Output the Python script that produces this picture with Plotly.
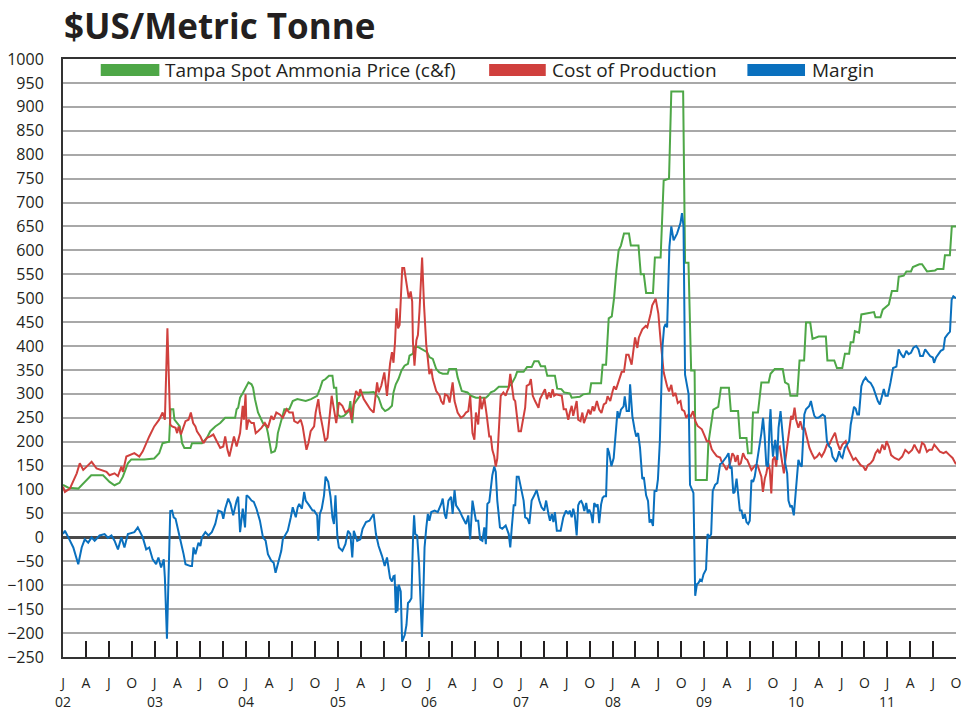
import plotly.graph_objects as go

# ---------------- data (x = months since Jan 2002) ----------------
quarter_labels = ["J", "A", "J", "O"]
year_labels = ["02", "03", "04", "05", "06", "07", "08", "09", "10", "11"]

price_month = [
    0.0, 0.7, 2.0, 2.9, 3.7, 5.25, 6.1, 6.75, 7.4, 7.85,
    8.5, 8.95, 10.65, 11.95, 12.6, 13.05, 13.9, 14.1, 14.45, 14.6,
    14.95, 15.3, 15.6, 15.9, 16.7, 16.9, 18.2, 18.85, 19.3, 19.95,
    20.6, 21.25, 22.55, 22.75, 22.95, 23.2, 23.6, 23.9, 24.3, 24.7,
    24.9, 25.15, 25.55, 26.2, 26.65, 26.85, 27.1, 27.3, 27.75, 27.95,
    28.15, 28.6, 29.0, 29.65, 30.1, 30.7, 31.8, 32.5, 32.9, 33.3,
    33.65, 34.0, 34.4, 34.85, 35.3, 35.5, 35.8, 36.0, 36.35, 36.8,
    37.0, 37.45, 37.65, 37.9, 38.1, 38.55, 39.2, 40.05, 40.7, 41.15,
    41.35, 41.8, 42.2, 42.65, 43.1, 43.3, 43.6, 43.95, 44.35, 44.75,
    45.2, 45.4, 45.85, 46.0, 46.5, 46.95, 47.35, 47.7, 48.0, 48.45,
    48.9, 49.3, 49.75, 50.4, 50.6, 51.5, 51.7, 52.0, 52.25, 53.0,
    53.45, 54.1, 55.4, 55.7, 56.05, 56.5, 56.9, 57.1, 58.4, 58.8,
    59.25, 59.5, 60.35, 60.8, 61.4, 61.75, 62.3, 62.6, 63.15, 63.45,
    64.45, 64.75, 65.3, 65.65, 66.4, 66.65, 67.7, 68.15, 69.0, 69.2,
    70.5, 70.7, 71.15, 71.5, 71.9, 72.2, 72.5, 72.8, 73.1, 73.5,
    74.15, 74.4, 75.4, 75.7, 76.1, 76.4, 77.3, 77.55, 78.3, 78.7,
    79.4, 79.7, 81.25, 81.5, 81.95, 82.3, 82.75, 82.9, 84.35, 84.55,
    85.2, 85.85, 86.2, 87.25, 87.5, 88.45, 88.7, 89.55, 89.75, 90.2,
    90.4, 91.05, 91.5, 92.45, 92.7, 93.25, 94.3, 94.6, 95.05, 95.3,
    96.2, 96.5, 97.1, 97.35, 97.9, 98.2, 99.0, 99.95, 100.15, 101.05,
    101.4, 102.1, 102.45, 103.0, 103.2, 103.55, 103.75, 104.3, 104.6, 106.25,
    106.45, 107.1, 107.4, 108.2, 108.6, 109.3, 109.5, 110.15, 110.5, 111.1,
    111.35, 112.2, 112.55, 112.85, 113.2, 114.25, 114.55, 115.35, 115.55, 116.2,
    116.45, 117.0]
price_value = [
    110, 104, 102, 116, 130, 130, 116, 109, 114, 127,
    155, 163, 163, 165, 176, 197, 200, 268, 268, 246,
    239, 232, 197, 187, 187, 197, 197, 208, 222, 232,
    239, 250, 250, 268, 271, 292, 303, 313, 324, 320,
    313, 289, 261, 239, 232, 218, 197, 177, 180, 190,
    218, 246, 268, 268, 285, 289, 285, 289, 292, 296,
    310, 327, 331, 338, 338, 313, 313, 257, 252, 254,
    257, 264, 285, 239, 278, 289, 303, 303, 304, 296,
    292, 271, 264, 268, 275, 303, 320, 331, 349, 359,
    363, 380, 384, 398, 398, 394, 391, 387, 377, 373,
    352, 345, 342, 342, 352, 352, 335, 317, 306, 303,
    296, 292, 292, 296, 303, 306, 313, 315, 315, 322,
    335, 346, 346, 356, 356, 368, 368, 358, 358, 338,
    338, 311, 310, 303, 301, 292, 294, 299, 301, 322,
    322, 361, 361, 458, 462, 500, 557, 600, 610, 635,
    635, 610, 610, 550, 550, 511, 511, 585, 585, 746,
    750, 932, 932, 574, 574, 349, 349, 120, 120, 196,
    267, 273, 313, 313, 264, 264, 208, 208, 176, 176,
    261, 261, 324, 324, 342, 352, 352, 324, 320, 296,
    296, 370, 370, 449, 449, 415, 420, 420, 370, 370,
    354, 354, 384, 384, 408, 408, 431, 428, 466, 471,
    460, 460, 476, 487, 515, 515, 545, 547, 556, 556,
    565, 571, 571, 565, 556, 558, 561, 561, 590, 590,
    650, 650]

cost_month = [
    0.0, 0.25, 0.9, 1.8, 2.2, 2.65, 3.1, 3.75, 4.4, 5.05,
    5.7, 6.1, 6.75, 7.2, 7.65, 7.85, 8.3, 9.35, 10.0, 10.45,
    10.9, 11.3, 11.95, 12.6, 13.05, 13.35, 13.68, 13.9, 14.05, 14.3,
    14.75, 14.95, 15.15, 15.45, 15.8, 16.05, 16.45, 16.75, 17.05, 17.35,
    17.55, 18.0, 18.4, 18.85, 19.3, 19.7, 20.15, 20.6, 21.0, 21.25,
    21.55, 21.8, 22.1, 22.4, 22.75, 22.95, 23.2, 23.55, 23.7, 23.92,
    24.05, 24.3, 24.7, 25.0, 25.25, 25.55, 26.0, 26.45, 26.85, 27.3,
    27.6, 27.95, 28.4, 28.8, 29.3, 29.65, 30.1, 30.3, 30.75, 31.15,
    31.4, 31.75, 31.9, 32.15, 32.45, 32.9, 33.1, 33.45, 33.65, 34.0,
    34.35, 34.65, 34.95, 35.2, 35.5, 35.8, 36.15, 36.6, 37.0, 37.55,
    37.8, 38.1, 38.4, 38.75, 38.95, 39.4, 39.85, 40.25, 40.7, 40.9,
    41.15, 41.35, 41.7, 42.1, 42.45, 42.85, 43.1, 43.3, 43.5, 43.7,
    43.9, 44.1, 44.45, 44.7, 45.0, 45.3, 45.55, 45.75, 45.85, 46.05,
    46.3, 46.5, 46.7, 47.05, 47.3, 47.6, 47.8, 48.0, 48.25, 48.45,
    48.9, 49.35, 49.55, 49.85, 50.05, 50.4, 50.65, 50.85, 51.05, 51.3,
    51.7, 52.15, 52.5, 52.8, 53.1, 53.35, 53.65, 53.9, 54.1, 54.4,
    54.65, 54.85, 55.2, 55.5, 55.85, 56.05, 56.25, 56.5, 56.7, 56.9,
    57.15, 57.35, 57.7, 58.0, 58.2, 58.4, 58.6, 58.8, 59.05, 59.25,
    59.45, 59.7, 60.0, 60.25, 60.55, 60.75, 61.1, 61.3, 61.55, 61.85,
    62.3, 62.5, 62.85, 63.15, 63.4, 63.7, 63.9, 64.15, 64.35, 64.6,
    65.35, 65.6, 65.9, 66.2, 66.4, 66.65, 66.85, 67.05, 67.3, 67.5,
    67.8, 68.05, 68.25, 68.5, 68.85, 69.1, 69.4, 69.6, 69.95, 70.25,
    70.55, 70.85, 71.15, 71.35, 71.7, 72.0, 72.2, 72.45, 72.65, 72.85,
    73.2, 73.5, 73.8, 74.1, 74.5, 74.95, 75.25, 75.45, 75.9, 76.35,
    76.55, 77.0, 77.2, 77.65, 78.0, 78.3, 78.7, 79.15, 79.4, 79.7,
    79.95, 80.25, 80.55, 80.9, 81.1, 81.4, 81.65, 81.95, 82.25, 82.55,
    82.85, 83.15, 83.4, 83.7, 84.0, 84.35, 84.7, 85.0, 85.3, 85.65,
    86.1, 86.3, 86.6, 86.95, 87.2, 87.4, 87.7, 87.95, 88.1, 88.4,
    88.55, 88.8, 89.1, 89.4, 89.65, 90.0, 90.2, 90.4, 90.7, 91.0,
    91.3, 91.5, 91.7, 91.95, 92.15, 92.4, 92.6, 92.8, 93.0, 93.25,
    93.45, 93.65, 93.9, 94.2, 94.45, 94.65, 94.9, 95.2, 95.4, 95.6,
    95.85, 96.05, 96.35, 96.6, 96.9, 97.15, 97.5, 97.8, 98.1, 98.45,
    98.8, 99.1, 99.4, 99.75, 100.1, 100.4, 100.7, 100.95, 101.15, 101.45,
    101.8, 102.1, 102.55, 102.8, 103.1, 103.55, 103.85, 104.15, 104.5, 104.85,
    105.15, 105.45, 105.8, 106.15, 106.45, 106.75, 107.0, 107.35, 107.65, 107.9,
    108.2, 108.5, 108.95, 109.5, 109.95, 110.35, 110.8, 111.25, 111.55, 111.9,
    112.2, 112.55, 112.85, 113.2, 113.5, 113.85, 114.15, 114.5, 114.9, 115.35,
    115.7, 116.15, 116.55, 117.0]
cost_value = [
    106, 95, 102, 134, 155, 141, 148, 158, 144, 141,
    137, 130, 134, 128, 148, 137, 169, 176, 169, 180,
    197, 211, 232, 246, 261, 246, 437, 320, 236, 232,
    229, 218, 232, 215, 232, 243, 246, 261, 239, 232,
    222, 211, 197, 208, 211, 215, 201, 187, 190, 211,
    183, 169, 190, 211, 190, 201, 218, 275, 246, 299,
    225, 246, 239, 239, 218, 222, 229, 239, 229, 254,
    246, 261, 257, 250, 268, 261, 261, 243, 239, 246,
    232, 197, 183, 197, 222, 232, 261, 289, 261, 232,
    201, 208, 254, 296, 268, 239, 282, 275, 261, 268,
    246, 282, 306, 296, 310, 289, 278, 268, 261, 289,
    324, 303, 317, 345, 296, 363, 387, 365, 408, 479,
    437, 444, 563, 563, 528, 500, 514, 493, 408, 359,
    412, 423, 472, 585, 486, 401, 373, 341, 352, 331,
    306, 296, 285, 278, 299, 296, 282, 303, 324, 285,
    261, 250, 254, 261, 264, 296, 218, 204, 261, 236,
    296, 268, 292, 257, 211, 211, 183, 169, 148, 165,
    232, 296, 303, 296, 306, 313, 342, 313, 289, 285,
    261, 222, 222, 246, 271, 317, 320, 331, 296, 285,
    271, 289, 299, 310, 289, 303, 292, 310, 296, 299,
    296, 268, 268, 246, 261, 275, 254, 268, 285, 246,
    243, 261, 239, 250, 267, 257, 274, 264, 285, 267,
    260, 278, 281, 295, 285, 305, 316, 309, 319, 330,
    346, 346, 382, 382, 361, 418, 396, 418, 435, 442,
    439, 468, 485, 499, 468, 411, 345, 316, 305, 319,
    295, 302, 281, 285, 267, 264, 250, 257, 253, 264,
    243, 233, 229, 226, 215, 201, 201, 184, 177, 170,
    167, 158, 151, 141, 150, 155, 176, 170, 158, 172,
    151, 155, 176, 165, 162, 148, 141, 145, 151, 151,
    134, 127, 95, 123, 134, 155, 141, 92, 162, 169,
    148, 187, 190, 155, 134, 162, 197, 229, 254, 246,
    271, 246, 229, 243, 225, 229, 208, 187, 176, 165,
    169, 176, 169, 179, 194, 194, 205, 215, 219, 198,
    183, 194, 201, 187, 176, 162, 166, 158, 151, 148,
    140, 151, 155, 162, 176, 183, 176, 194, 183, 201,
    190, 172, 166, 162, 169, 183, 176, 183, 194, 183,
    176, 198, 194, 179, 183, 183, 194, 187, 179, 176,
    179, 172, 166, 153]

margin_month = [
    0.0, 0.25, 0.7, 1.35, 2.0, 2.45, 2.85, 3.3, 3.75, 4.15,
    4.8, 5.45, 5.9, 6.35, 6.75, 7.2, 7.65, 8.05, 8.5, 9.35,
    9.8, 10.45, 10.9, 11.3, 11.75, 12.2, 12.5, 12.85, 13.2, 13.35,
    13.62, 14.05, 14.3, 14.5, 14.75, 14.95, 15.4, 15.6, 15.8, 16.05,
    16.7, 16.9, 17.1, 17.35, 17.75, 18.0, 18.2, 18.65, 19.05, 19.5,
    19.95, 20.35, 20.8, 21.0, 21.25, 21.65, 21.95, 22.3, 22.75, 22.95,
    23.2, 23.55, 23.85, 24.05, 24.3, 24.7, 25.0, 25.35, 25.8, 26.2,
    26.55, 26.85, 27.3, 27.6, 27.85, 28.15, 28.6, 28.8, 29.2, 29.45,
    29.85, 30.1, 30.5, 30.75, 30.95, 31.3, 31.6, 31.8, 32.25, 32.7,
    32.9, 33.3, 33.45, 33.65, 33.9, 34.2, 34.4, 34.75, 35.05, 35.3,
    35.5, 35.7, 35.95, 36.15, 36.6, 37.0, 37.35, 37.65, 37.9, 38.1,
    38.55, 38.95, 39.25, 39.7, 40.15, 40.7, 41.0, 41.35, 41.8, 42.15,
    42.45, 42.85, 43.1, 43.3, 43.45, 43.6, 43.7, 43.82, 43.99, 44.25,
    44.43, 44.77, 45.0, 45.2, 45.4, 45.65, 45.85, 46.0, 46.15, 46.4,
    46.65, 46.8, 47.03, 47.2, 47.37, 47.6, 47.8, 48.0, 48.25, 48.7,
    49.1, 49.55, 49.75, 50.0, 50.2, 50.5, 50.85, 51.05, 51.3, 51.5,
    51.95, 52.35, 52.8, 53.1, 53.35, 53.65, 54.1, 54.4, 54.65, 54.95,
    55.2, 55.4, 55.6, 55.85, 56.05, 56.25, 56.5, 56.7, 56.9, 57.25,
    57.55, 58.0, 58.4, 58.6, 58.8, 59.05, 59.25, 59.45, 59.7, 59.9,
    60.35, 60.55, 60.85, 61.1, 61.4, 61.75, 62.05, 62.4, 62.7, 63.05,
    63.3, 63.6, 63.8, 64.05, 64.25, 64.45, 64.7, 65.2, 65.55, 65.9,
    66.2, 66.4, 66.65, 66.85, 67.05, 67.3, 67.5, 67.7, 67.9, 68.1,
    68.3, 68.55, 68.75, 68.95, 69.2, 69.4, 69.6, 69.85, 70.05, 70.25,
    70.5, 70.7, 70.9, 71.15, 71.35, 71.55, 71.85, 72.15, 72.45, 72.65,
    72.85, 73.1, 73.45, 73.6, 73.85, 74.15, 74.3, 74.6, 74.9, 75.1,
    75.35, 75.6, 75.9, 76.1, 76.4, 76.65, 76.85, 77.05, 77.3, 77.5,
    77.75, 77.95, 78.2, 78.35, 78.55, 78.75, 78.95, 79.15, 79.45, 79.7,
    80.0, 80.45, 80.9, 81.1, 81.3, 81.5, 81.75, 81.97, 82.15, 82.4,
    82.6, 82.83, 83.05, 83.27, 83.48, 83.7, 83.92, 84.25, 84.45, 84.7,
    84.92, 85.13, 85.44, 85.74, 86.09, 86.3, 86.65, 86.95, 87.2, 87.4,
    87.6, 87.82, 88.0, 88.25, 88.45, 88.68, 88.9, 89.12, 89.33, 89.55,
    89.77, 89.98, 90.2, 90.42, 90.63, 90.85, 91.07, 91.28, 91.5, 91.72,
    91.93, 92.15, 92.37, 92.58, 92.7, 92.88, 93.02, 93.15, 93.32, 93.58,
    93.75, 94.01, 94.19, 94.45, 94.62, 94.88, 95.05, 95.31, 95.49, 95.75,
    95.92, 96.18, 96.35, 96.61, 96.79, 97.13, 97.35, 97.78, 97.99, 98.22,
    98.44, 98.66, 98.96, 99.22, 99.52, 99.83, 100.09, 100.39, 100.61, 100.82,
    101.04, 101.26, 101.47, 101.69, 101.91, 102.12, 102.43, 102.69, 103.0, 103.21,
    103.43, 103.64, 103.86, 104.07, 104.29, 104.6, 104.85, 105.16, 105.46, 105.81,
    106.16, 106.46, 106.76, 107.02, 107.33, 107.54, 107.76, 108.06, 108.41, 108.76,
    109.19, 109.49, 109.8, 110.14, 110.49, 110.79, 111.1, 111.44, 111.79, 112.09,
    112.31, 112.66, 112.96, 113.26, 113.61, 113.96, 114.13, 114.39, 114.7, 115.0,
    115.35, 115.56, 115.87, 116.21, 116.43, 116.65, 117.0]
margin_value = [
    7, 14, 0, -21, -56, -21, -4, -11, 0, -7,
    4, 7, -1, 4, -7, -25, 0, -21, 7, 11,
    21, 0, -25, -21, -46, -56, -42, -63, -46, -85,
    -212, 55, 56, 42, 39, 25, 0, -21, -35, -56,
    -60, -60, -21, -35, -11, -18, 0, 11, 4, 11,
    28, 56, 53, 39, 60, 81, 70, 46, 77, 85,
    11, 60, 21, 88, 85, 77, 74, 60, 35, 0,
    -7, -35, -49, -53, -74, -53, -28, -4, 7, 14,
    42, 63, 42, 63, 70, 60, 95, 77, 67, 56,
    56, 46, -7, 49, 60, 88, 127, 116, 85, 42,
    28, 88, 0, -21, -28, -14, 14, 7, -42, 14,
    -7, -4, 18, 32, 35, 49, 7, -18, -39, -60,
    -42, -85, -92, -81, -80, -158, -102, -155, -99, -113,
    -218, -204, -183, -137, -134, -127, -7, 46, 7, 4,
    -56, -127, -208, -127, -21, 21, 49, 35, 53, 56,
    53, 70, 81, 49, 39, 77, 85, 49, 99, 67,
    56, 42, 28, 46, -4, 77, 35, 35, -4, -7,
    21, -14, 70, 74, 106, 130, 148, 137, 77, 21,
    18, 25, 7, -21, 21, 67, 67, 127, 127, 113,
    77, 42, 39, 28, 77, 88, 99, 77, 63, 56,
    77, 49, 35, 49, 32, 53, 14, 14, 42, 56,
    49, 56, 42, 60, 46, 4, 67, 74, 76, 69,
    55, 72, 51, 58, 48, 30, 72, 65, 69, 30,
    69, 83, 86, 86, 187, 177, 149, 166, 236, 264,
    250, 267, 274, 295, 264, 264, 320, 253, 225, 211,
    218, 187, 122, 126, 88, 76, 31, 38, 24, 97,
    97, 122, 201, 300, 400, 439, 446, 439, 607, 650,
    621, 635, 657, 678, 650, 340, 320, 299, 110, 100,
    93, -122, -98, -95, -88, -91, -77, -67, 7, 0,
    7, 97, 110, 114, 153, 155, 162, 169, 176, 144,
    148, 92, 95, 123, 92, 56, 56, 39, 49, 32,
    28, 35, 120, 116, 127, 148, 176, 197, 218, 250,
    211, 151, 148, 239, 268, 197, 169, 187, 204, 162,
    229, 264, 232, 197, 155, 134, 77, 63, 67, 46,
    85, 123, 162, 151, 148, 257, 268, 275, 285, 268,
    254, 250, 250, 253, 257, 253, 201, 190, 187, 169,
    162, 158, 166, 180, 169, 166, 187, 194, 201, 236,
    253, 273, 269, 257, 257, 316, 327, 334, 327, 323,
    313, 298, 285, 278, 296, 310, 296, 296, 323, 354,
    357, 393, 383, 376, 390, 383, 386, 397, 400, 393,
    379, 379, 393, 386, 379, 376, 365, 376, 383, 390,
    393, 417, 424, 430, 497, 504, 500]

series_names = ["Tampa Spot Ammonia Price (c&f)", "Cost of Production", "Margin"]

# ---------------- styling ----------------
GREEN = "#4ea747"
RED = "#d0403d"
BLUE = "#0a70be"
FONT = "Open Sans"
TEXT = "#231f20"

fig = go.Figure()
for name, xs, ys, col in [
    (series_names[0], price_month, price_value, GREEN),
    (series_names[1], cost_month, cost_value, RED),
    (series_names[2], margin_month, margin_value, BLUE),
]:
    fig.add_trace(go.Scatter(x=xs, y=ys, mode="lines", name=name,
                             line=dict(color=col, width=2), showlegend=False,
                             hoverinfo="x+y"))

# tick positions: every quarter
tick_vals = list(range(0, 118, 3))
tick_text = [quarter_labels[i % 4] for i in range(len(tick_vals))]

# plot area in page pixels
PLOT_L, PLOT_T, PLOT_W, PLOT_H = 63, 59, 899, 598
W, H = 967, 711


def px_x(p):
    return (p - PLOT_L) / PLOT_W


def px_y(p):
    return 1 - (p - PLOT_T) / PLOT_H


annotations = []
# title
annotations.append(dict(text="<b>$US/Metric Tonne</b>", xref="paper", yref="paper",
                        x=px_x(62), y=px_y(25), xanchor="left", yanchor="middle",
                        showarrow=False, font=dict(family=FONT, size=35, color=TEXT)))
# year labels
for i, yl in enumerate(year_labels):
    annotations.append(dict(text=yl, xref="x", yref="paper", x=12 * i, y=px_y(701),
                            xanchor="center", yanchor="middle", showarrow=False,
                            font=dict(family=FONT, size=14, color=TEXT)))

# manual legend (swatches + text)
shapes = []
legend_items = [(series_names[0], GREEN, 101, 160, 164),
                (series_names[1], RED, 492, 549, 553),
                (series_names[2], BLUE, 752, 810, 815)]
for name, col, x0, x1, tx in legend_items:
    shapes.append(dict(type="rect", xref="paper", yref="paper",
                       x0=px_x(x0), x1=px_x(x1), y0=px_y(76), y1=px_y(64),
                       fillcolor=col, line=dict(width=0)))
    annotations.append(dict(text=name, xref="paper", yref="paper", x=px_x(tx), y=px_y(70),
                            xanchor="left", yanchor="middle", showarrow=False,
                            font=dict(family=FONT, size=19, color=TEXT)))

fig.update_layout(
    width=W, height=H,
    margin=dict(l=PLOT_L, r=W - PLOT_L - PLOT_W, t=PLOT_T, b=H - PLOT_T - PLOT_H),
    paper_bgcolor="white", plot_bgcolor="white",
    font=dict(family=FONT, color=TEXT),
    annotations=annotations, shapes=shapes,
    showlegend=False,
    xaxis=dict(range=[0, 117], tickmode="array", tickvals=tick_vals, ticktext=tick_text,
               ticks="inside", ticklen=16, tickwidth=1.5, tickcolor=TEXT,
               showline=True, linecolor="#333333", linewidth=2, mirror=True,
               showgrid=False, zeroline=False, ticklabelstandoff=12,
               ticklabeloverflow="allow",
               tickfont=dict(family=FONT, size=14, color=TEXT)),
    yaxis=dict(range=[-250, 1000], tickmode="linear", tick0=-250, dtick=50,
               showgrid=True, gridcolor="#a8a8a8", gridwidth=2,
               zeroline=True, zerolinecolor="#4a4a4a", zerolinewidth=2.5,
               showline=True, linecolor="#333333", linewidth=2,
               ticks="", ticklabelstandoff=14,
               tickfont=dict(family=FONT, size=16, color=TEXT)),
)

# remove the browser's default 8px page margin so the figure sits at (0,0)
fig.write_html("out.html",
               config={"displayModeBar": False},
               post_script="document.body.style.margin='0';"
                           "document.body.style.overflow='hidden';")
